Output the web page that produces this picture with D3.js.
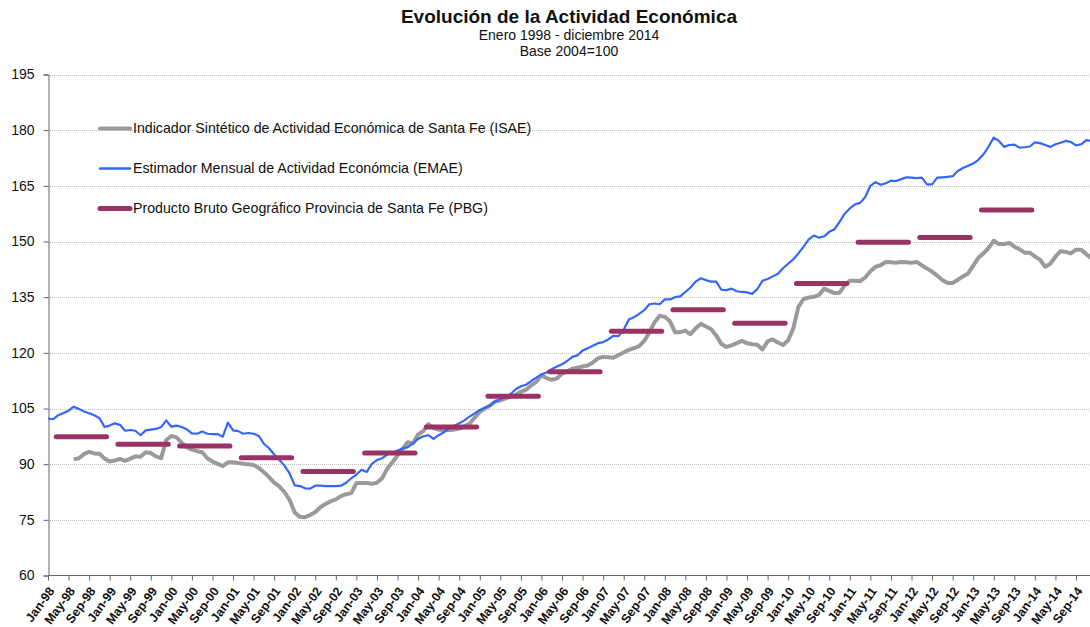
<!DOCTYPE html>
<html>
<head>
<meta charset="utf-8">
<script src="https://cdn.jsdelivr.net/npm/d3@7"></script>
<style>
  body { margin: 0; background: #fff; }
  svg text { font-family: "Liberation Sans", Arial, sans-serif; fill: #111; }
</style>
</head>
<body>
<div id="chart"></div>
<script>
// month index 0 = Jan-98 ... 203 = Dec-14
var monthNames = ["Jan","Feb","Mar","Apr","May","Jun","Jul","Aug","Sep","Oct","Nov","Dec"];
var firstYear = 1998;
var yTicks = [60, 75, 90, 105, 120, 135, 150, 165, 180, 195];

// EMAE, Jan-98 .. Dec-14
var emae = [
  102.3,102.1,103.2,103.8,104.4,105.5,104.9,104.2,103.7,103.2,102.4,100.0,
  100.4,101.0,100.6,99.0,99.2,99.0,97.8,99.1,99.3,99.5,100.0,101.8,
  100.1,100.4,100.0,99.4,98.3,98.2,98.8,98.2,98.1,98.1,97.4,101.2,
  99.1,98.9,98.2,98.4,98.2,97.6,95.5,94.3,92.6,91.2,89.6,87.5,
  84.3,84.1,83.5,83.4,84.2,84.2,84.1,84.1,84.1,84.2,85.0,86.2,
  87.2,88.5,87.9,90.1,91.1,91.6,92.6,93.1,93.7,94.2,94.6,95.6,
  96.8,97.5,97.8,96.8,97.8,98.6,99.6,100.3,101.0,101.8,102.8,103.7,
  104.6,105.2,105.8,106.9,107.5,108.0,108.9,110.2,111.0,111.4,112.4,113.3,
  114.2,114.7,115.6,116.3,116.9,117.8,118.9,119.3,120.6,121.2,121.9,122.6,
  122.9,123.6,124.6,124.5,126.2,129.0,129.6,130.5,131.5,133.1,133.3,133.1,
  134.4,134.4,135.0,135.2,136.4,137.6,139.2,140.1,139.6,139.2,139.2,137.0,
  136.9,137.3,136.6,136.4,136.3,135.9,137.2,139.4,139.9,140.6,141.3,142.8,
  144.0,145.2,146.8,148.6,150.6,151.6,151.0,151.4,152.6,153.3,155.3,157.5,
  158.9,160.0,160.4,162.0,165.0,166.0,165.3,165.7,166.4,166.3,166.8,167.3,
  167.2,167.1,167.2,165.4,165.4,167.2,167.3,167.4,167.6,169.0,169.8,170.4,
  171.0,172.0,173.5,175.6,178.0,177.1,175.5,176.0,176.1,175.3,175.4,175.6,
  176.7,176.5,176.0,175.5,176.2,176.6,177.1,176.8,175.9,176.2,177.3,177.1
];

// ISAE, starts Jun-98 (month index 5)
var isaeStart = 5;
var isae = [
  91.3,91.6,92.7,93.3,92.9,92.8,91.5,
  90.7,91.0,91.4,90.9,91.5,92.1,92.0,93.2,93.0,92.1,91.6,96.5,
  97.6,97.2,95.8,94.6,93.9,93.5,93.2,91.6,90.7,90.1,89.5,90.5,
  90.5,90.3,90.1,90.0,89.8,89.0,87.8,86.5,85.0,84.0,82.5,80.4,
  77.0,75.8,75.7,76.3,77.1,78.4,79.3,80.0,80.5,81.4,81.9,82.2,
  84.9,84.9,84.9,84.7,85.0,86.2,88.8,90.5,92.4,94.2,95.9,95.6,
  98.0,98.9,100.8,99.7,99.3,99.2,99.2,99.3,99.6,100.2,100.9,102.5,
  104.1,105.0,105.8,106.9,107.2,107.7,108.2,108.7,109.5,110.1,111.2,112.2,
  113.9,113.2,112.7,113.1,114.4,115.0,115.7,116.0,116.3,116.6,117.4,118.5,
  118.9,118.8,118.7,119.4,120.1,120.8,121.3,121.8,123.2,125.5,128.2,130.0,
  129.7,128.5,125.5,125.6,126.0,125.0,126.6,127.8,127.1,126.4,124.7,122.4,
  121.6,122.0,122.6,123.2,122.6,122.3,122.2,120.9,123.1,123.6,122.8,122.1,
  123.4,126.6,132.4,134.5,134.9,135.1,135.6,137.3,136.7,136.1,136.2,138.2,
  139.4,139.4,139.3,140.3,142.0,143.2,143.6,144.5,144.4,144.3,144.5,144.4,
  144.3,144.5,143.6,142.7,141.9,140.8,139.6,138.8,138.8,139.7,140.6,141.4,
  143.5,145.6,146.8,148.3,150.2,149.3,149.3,149.6,148.6,147.9,147.0,147.0,
  146.0,145.1,143.2,144.0,145.9,147.4,147.2,146.8,147.8,147.8,146.6,145.5
];

// PBG, one value per year
var pbgYears = [1998,1999,2000,2001,2002,2003,2004,2005,2006,2007,2008,2009,2010,2011,2012,2013];
var pbg = [97.4,95.4,94.9,91.7,88.0,93.0,100.0,108.3,114.9,125.8,131.6,128.0,138.7,149.8,151.1,158.5];

var legendLabels = [
  "Indicador Sintético de Actividad Económica de Santa Fe (ISAE)",
  "Estimador Mensual de Actividad Económcia (EMAE)",
  "Producto Bruto Geográfico Provincia de Santa Fe (PBG)"
];

var W = 1090, H = 627;
var colIsae = "#9a9a9a", colEmae = "#3366ff", colPbg = "#993366";

var svg = d3.select("#chart").append("svg")
    .attr("width", W)
    .attr("height", H);

var x = d3.scaleLinear().domain([0, 200]).range([48, 1076]);
var y = d3.scaleLinear().domain([60, 195]).range([575.5, 74.5]);

// title
svg.append("text").attr("x", 569).attr("y", 23).attr("text-anchor", "middle")
    .style("font-size", "19px").style("font-weight", "bold")
    .text("Evolución de la Actividad Económica");
svg.append("text").attr("x", 569).attr("y", 40).attr("text-anchor", "middle")
    .style("font-size", "14px").text("Enero 1998 - diciembre 2014");
svg.append("text").attr("x", 569).attr("y", 56).attr("text-anchor", "middle")
    .style("font-size", "14px").text("Base 2004=100");

//gridlines
svg.append("g").selectAll("line")
    .data(yTicks.slice(1))
    .enter().append("line")
    .attr("x1", 48).attr("x2", W)
    .attr("y1", function(d){ return Math.round(y(d)) + 0.5; })
    .attr("y2", function(d){ return Math.round(y(d)) + 0.5; })
    .attr("stroke", "#bdbdbd")
    .attr("stroke-dasharray", "1,1");

// y axis
var yAxis = d3.axisLeft(y).tickValues(yTicks).tickSize(5).tickPadding(9);
var gy = svg.append("g").attr("transform", "translate(48.5,0)").call(yAxis);
gy.select(".domain").attr("stroke", "#666");
gy.selectAll(".tick line").attr("stroke", "#666");
gy.selectAll(".tick text").style("font-size", "14px").style("font-family", "Liberation Sans, Arial, sans-serif").attr("fill", "#111");

// x axis
var xTicks = d3.range(0, 201, 4);
var xAxis = d3.axisBottom(x).tickValues(xTicks).tickSize(5).tickFormat(function(i){
    return monthNames[i % 12] + "-" + String((firstYear + Math.floor(i / 12)) % 100).padStart(2, "0");
});
var gx = svg.append("g").attr("transform", "translate(0,575.5)").call(xAxis);
gx.select(".domain").attr("stroke", "#666").attr("d", "M48,0H" + W);
gx.selectAll(".tick line").attr("stroke", "#666");
gx.selectAll(".tick text")
    .style("font-size", "12.5px").style("font-weight", "bold")
    .style("font-family", "Liberation Sans, Arial, sans-serif")
    .attr("fill", "#111")
    .attr("text-anchor", "end")
    .attr("y", 0)
    .attr("dy", "0.35em")
    .attr("transform", "translate(3,13) rotate(-54)");

// lines
var line = d3.line()
    .x(function(d){ return x(d.i); })
    .y(function(d){ return y(d.v); });

var isaeData = isae.map(function(v, k){ return {i: k + isaeStart, v: v}; });
var emaeData = emae.map(function(v, k){ return {i: k, v: v}; });

svg.append("path").datum(isaeData)
    .attr("d", line).attr("fill", "none")
    .attr("stroke", colIsae).attr("stroke-width", 4).attr("stroke-linejoin", "round");

svg.append("path").datum(emaeData)
    .attr("d", line).attr("fill", "none")
    .attr("stroke", colEmae).attr("stroke-width", 2.2).attr("stroke-linejoin", "round");

// PBG yearly bars
svg.append("g").selectAll("line")
    .data(pbg)
    .enter().append("line")
    .attr("x1", function(d, k){ return x((pbgYears[k] - firstYear) * 12 + 1.6); })
    .attr("x2", function(d, k){ return x((pbgYears[k] - firstYear) * 12 + 11.4); })
    .attr("y1", function(d){ return y(d); })
    .attr("y2", function(d){ return y(d); })
    .attr("stroke", colPbg).attr("stroke-width", 5).attr("stroke-linecap", "round");

// legend
var legendStyles = [
    {color: colIsae, width: 4},
    {color: colEmae, width: 2.5},
    {color: colPbg, width: 5}
];
var lg = svg.append("g").selectAll("g")
    .data(legendLabels)
    .enter().append("g")
    .attr("transform", function(d, k){ return "translate(0," + (128.5 + k * 40) + ")"; });
lg.append("line")
    .attr("x1", 100).attr("x2", 130)
    .attr("stroke", function(d, k){ return legendStyles[k].color; })
    .attr("stroke-width", function(d, k){ return legendStyles[k].width; })
    .attr("stroke-linecap", "round");
lg.append("text")
    .attr("x", 133).attr("dy", "0.35em")
    .style("font-size", "14.2px")
    .text(function(d){ return d; });
</script>
</body>
</html>
